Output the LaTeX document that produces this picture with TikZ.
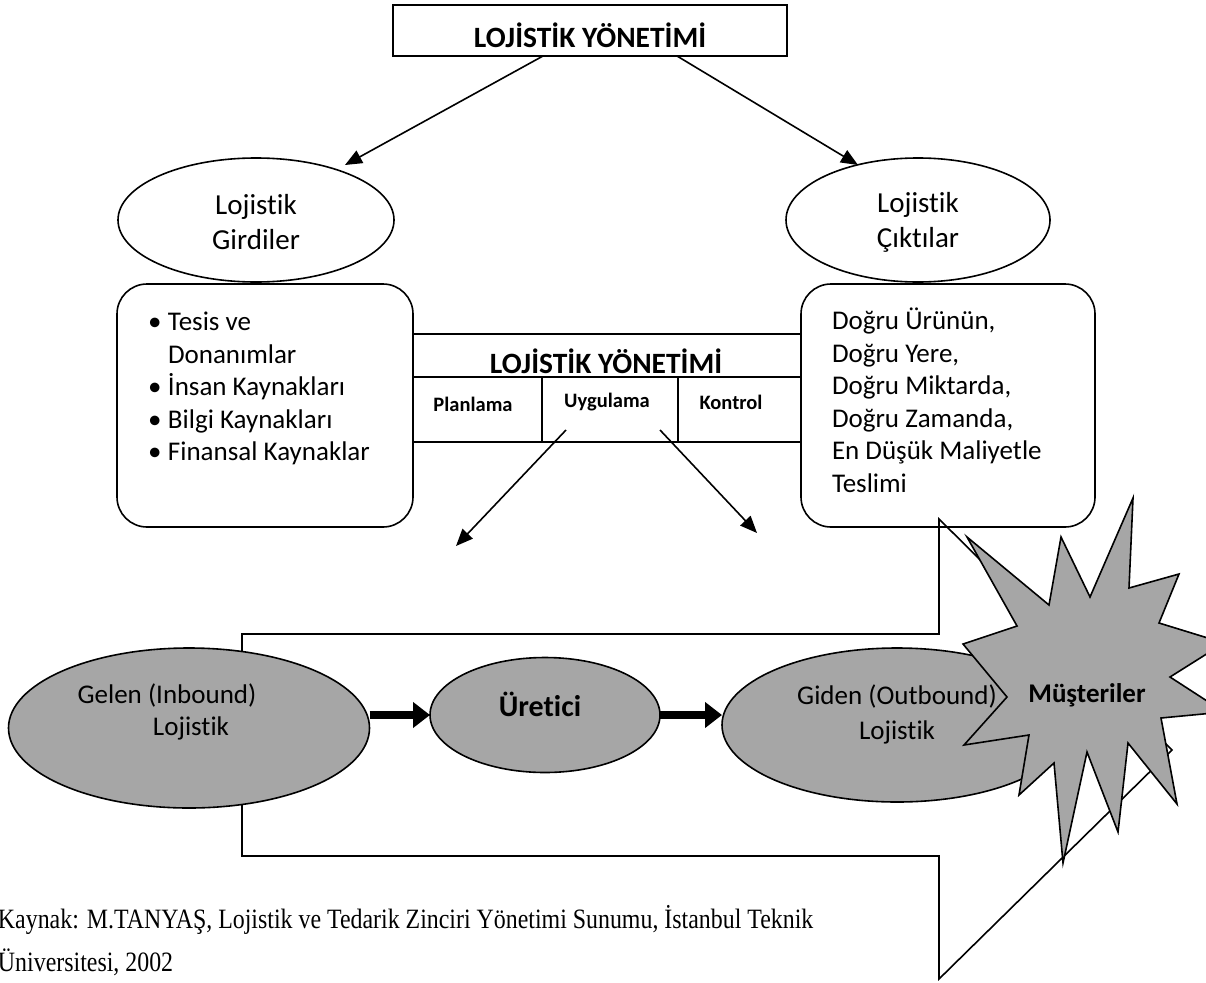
\documentclass[tikz,border=0pt]{standalone}
\usepackage{fontspec}
\setmainfont{Carlito}[Ligatures=NoCommon]
\newfontfamily\capfont{Liberation Serif}
\usetikzlibrary{arrows.meta,shapes.geometric}
\definecolor{shade}{HTML}{A6A6A6}

\begin{document}
\begin{tikzpicture}[x=1pt,y=-1pt,
  every node/.style={inner sep=0pt,outer sep=0pt},
  ln/.style={line width=1.6pt,line join=miter},
  oval/.style={ellipse,draw,line width=1.6pt},
  grayoval/.style={oval,fill=shade},
  rbox/.style={draw,line width=1.6pt,rounded corners=30pt},
  thinarrow/.style={line width=1.6pt,-{Triangle[length=17pt,width=14pt]}},
  fatarrow/.style={line width=8pt,-{Triangle[length=17pt,width=25pt]}},
  body/.style={font=\fontsize{27}{32.5}\selectfont},
  ovaltext/.style={font=\fontsize{29}{35}\selectfont},
  head/.style={font=\fontsize{29.5}{34}\selectfont\bfseries},
  cell/.style={font=\fontsize{20.5}{24}\selectfont\bfseries},
]
\useasboundingbox (0,0) rectangle (1206,982);
\clip (0,0) rectangle (1206,982);

% title box
\node[draw,line width=1.6pt,minimum width=394pt,minimum height=51pt]
  (top) at (590,30.5) {};
\node[head] (topT) at (590,35) {LOJİSTİK YÖNETİMİ};

% input / output ovals
\node[oval,minimum width=276pt,minimum height=124pt] (gir) at (256,220) {};
\node[ovaltext,align=center] (girT) at (256,222) {Lojistik\\Girdiler};
\node[oval,minimum width=264pt,minimum height=124pt] (cik) at (918,220) {};
\node[ovaltext,align=center] (cikT) at (918,222) {Lojistik\\Çıktılar};

\coordinate (ta) at (543,56);
\coordinate (tb) at (677,56);
\coordinate (ga) at (345,165);
\coordinate (cb) at (858,165);
\draw[thinarrow] (ta) -- (ga);
\draw[thinarrow] (tb) -- (cb);

% resource and result boxes
\draw[rbox] (117,284) rectangle (413,527);
\draw[rbox] (801,284) rectangle (1095,527);
\node[body,align=left,anchor=north west] (inputs) at (148,312) {%
  \makebox[20pt][l]{•}Tesis ve\\
  \hspace*{20pt}Donanımlar\\
  \makebox[20pt][l]{•}İnsan Kaynakları\\
  \makebox[20pt][l]{•}Bilgi Kaynakları\\
  \makebox[20pt][l]{•}Finansal Kaynaklar};
\node[body,align=left,anchor=north west] (outputs) at (832,308) {%
  Doğru Ürünün,\\
  Doğru Yere,\\
  Doğru Miktarda,\\
  Doğru Zamanda,\\
  En Düşük Maliyetle\\
  Teslimi};

% management table between the boxes
\draw[ln] (413,334) -- (801,334);
\draw[ln] (413,377) -- (801,377);
\draw[ln] (413,442) -- (801,442);
\draw[ln] (542,377) -- (542,442);
\draw[ln] (678,377) -- (678,442);
\node[head] (mgmt) at (606,361) {LOJİSTİK YÖNETİMİ};
\node[cell] (plan) at (473,404) {Planlama};
\node[cell] (uyg) at (607,402) {Uygulama};
\node[cell] (kon) at (731,402) {Kontrol};

\coordinate (ua) at (566,430);
\coordinate (ub) at (660,430);
\coordinate (ue) at (456,546);
\coordinate (uf) at (757,533);
\draw[thinarrow] (ua) -- (ue);
\draw[thinarrow] (ub) -- (uf);

% return block arrow around the chain
\coordinate (p1) at (242,700);
\coordinate (p2) at (242,634);
\coordinate (p3) at (939,634);
\coordinate (p4) at (939,519);
\coordinate (p5) at (1172,750);
\coordinate (p6) at (939,979);
\coordinate (p7) at (939,856);
\coordinate (p8) at (242,856);
\coordinate (p9) at (242,760);
\draw[ln] (p1) -- (p2) -- (p3) -- (p4) -- (p5) -- (p6) -- (p7) -- (p8) -- (p9);

% logistics chain
\node[grayoval,minimum width=361pt,minimum height=160pt] (gel) at (189,728) {};
\node[body] (gelA) at (167,695) {Gelen (Inbound)};
\node[body] (gelB) at (191,728) {Lojistik};
\node[grayoval,minimum width=230pt,minimum height=115pt] (ure) at (545,715) {};
\node[font=\fontsize{30}{34}\selectfont\bfseries] (ureT) at (540,704) {Üretici};
\node[grayoval,minimum width=350pt,minimum height=154pt] (gid) at (897,725) {};
\node[body] (gidA) at (897,696) {Giden (Outbound)};
\node[body] (gidB) at (897,732) {Lojistik};

\draw[fatarrow] (ure.west -| gel.east) -- (ure.west);
\draw[fatarrow] (ure.east) -- (ure.east -| gid.west);

% customers burst
\draw[ln,fill=shade] (1133,498) -- (1129,588) -- (1179,574) -- (1159,623)
  -- (1224,643) -- (1170,677) -- (1224,712) -- (1161,718) -- (1177,804)
  -- (1128,743) -- (1118,832) -- (1087,752) -- (1063,863) -- (1054,763)
  -- (1019,795) -- (1029,735) -- (964,745) -- (1007,697) -- (963,644)
  -- (1017,626) -- (967,537) -- (1049,605) -- (1061,537) -- (1090,597)
  -- cycle;
\node[font=\fontsize{27}{30}\selectfont\bfseries] (mus) at (1087,695) {Müşteriler};

% source note, set in a narrowed serif
\node[anchor=north west,align=left,font=\capfont\fontsize{28}{43}\selectfont]
  (src) at (-2,905) {\scalebox{0.853}[1]{Kaynak: M.TANYAŞ, Lojistik ve Tedarik Zinciri Yönetimi Sunumu, İstanbul Teknik}\\
  \scalebox{0.853}[1]{Üniversitesi, 2002}};
\end{tikzpicture}
\end{document}
